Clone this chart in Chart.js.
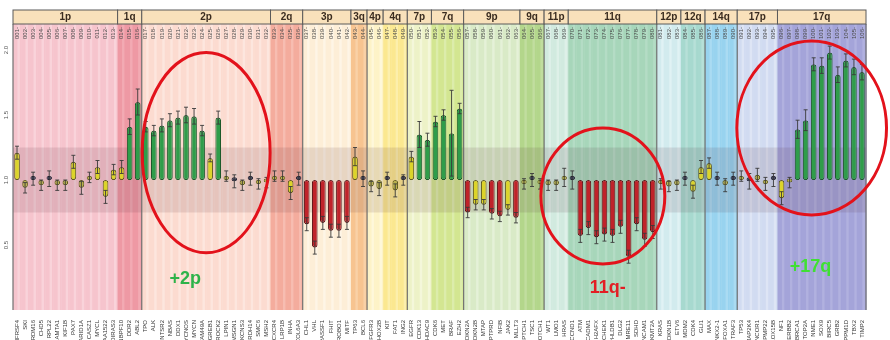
<!DOCTYPE html>
<html>
<head>
<meta charset="utf-8">
<script src="https://cdn.jsdelivr.net/npm/chart.js@4.4.1/dist/chart.umd.min.js"></script>
<style>
  html, body { margin: 0; padding: 0; background: #fff; }
  #wrap { width: 890px; height: 340px; }
</style>
</head>
<body>
<div id="wrap"><canvas id="mlpaChart" width="890" height="340"></canvas></div>
<script>
// chromosome arms and how many probes fall on each
const armNames = ['1p','1q','2p','2q','3p','3q','4p','4q','7p','7q','9p','9q','11p','11q','12p','12q','14q','17p','17q'];
const armSizes = [13, 3, 16, 4, 6, 2, 2, 3, 3, 4, 7, 3, 3, 11, 3, 3, 4, 5, 11];

const probes = [
    'TNFRSF4','SKI','PRDM16','CHD5','RPL22','CAMTA1','KIF1B','PAX7','ARID1A','CASZ1','MYCL','KIAA1522','DIRAS3',
    'NBPF10','DDR2','ABL2',
    'TPO','ALK','NTSR2','NBAS','DDX1','MYCNOS','MYCN','FAM49A','GREB1','ROCK2','LPIN1','MSGN1','KCNS3','RDH14','SMC6','MSH2',
    'CXCR4','LRP1B','INHA','COL6A3',
    'CHL1','VHL','RASSF1','FHIT','ROBO1','MITF',
    'TP63','BCL6',
    'FGFR3','PHOX2B',
    'KIT','FAT1','ING2',
    'EGFR','CDK13','HDAC9',
    'CDK6','MET','BRAF','EZH2',
    'CDKN2A','CDKN2B','MTAP','PTPRD','NFIB','JAK2','MLLT3',
    'PTCH1','TSC1','NOTCH1',
    'WT1','LMO1','HRAS',
    'CCND1','ATM','CADM1','H2AFX','CHEK1','PHLDB1','DLG2','MRE11','SDHD','NCAM1','KMT2A',
    'KRAS','CDKN1B','ETV6',
    'MDM2','CDK4','GLI1',
    'MAX','NKX2-1','FOXA1','TRAF3',
    'TP53','MAP2K4','NCOR1','PMP22','ALOX15B',
    'NF1','ERBB2','BRCA1','TOP2A','NME1','SOX9','BIRC5','GRB2','PPM1D','TBX2','TIMP2'
];

// probe ratios (1.0 = normal copy number)
const ratios = [
    1.21, 0.94, 1.01, 0.96, 1.01, 0.96, 0.96, 1.14, 0.94, 1.02, 1.10, 0.87, 1.08,
    1.10, 1.41, 1.60,
    1.41, 1.38, 1.42, 1.46, 1.48, 1.50, 1.49, 1.38, 1.17, 1.48, 1.03, 0.99, 0.96, 1.01, 0.97, 0.98,
    1.03, 1.03, 0.90, 1.01,
    0.66, 0.48, 0.67, 0.61, 0.61, 0.67,
    1.18, 1.01,
    0.95, 0.93,
    1.01, 0.92, 1.00,
    1.18, 1.35, 1.31,
    1.45, 1.50, 1.36, 1.55,
    0.75, 0.81, 0.81, 0.74, 0.72, 0.77, 0.71,
    0.97, 1.00, 0.97,
    0.96, 0.96, 1.02,
    1.00, 0.57, 0.63, 0.56, 0.58, 0.57, 0.64, 0.41, 0.66, 0.54, 0.60,
    0.97, 0.95, 0.96,
    1.01, 0.91, 1.10,
    1.13, 1.01, 0.96, 1.01,
    1.03, 0.99, 1.04, 0.97, 1.00,
    0.86, 0.98, 1.39, 1.46, 1.89, 1.88, 1.98, 1.81, 1.92, 1.87, 1.83
];

// standard deviation of each ratio
const errors = [
    0.05, 0.04, 0.05, 0.04, 0.06, 0.04, 0.04, 0.05, 0.05, 0.04, 0.05, 0.05, 0.04,
    0.05, 0.06, 0.10,
    0.04, 0.04, 0.05, 0.05, 0.05, 0.06, 0.06, 0.04, 0.03, 0.05, 0.04, 0.05, 0.04, 0.05, 0.04, 0.04,
    0.04, 0.04, 0.05, 0.05,
    0.05, 0.05, 0.05, 0.05, 0.05, 0.05,
    0.07, 0.06,
    0.04, 0.05,
    0.05, 0.05, 0.04,
    0.04, 0.10, 0.05,
    0.04, 0.04, 0.33, 0.04,
    0.04, 0.04, 0.04, 0.04, 0.04, 0.04, 0.04,
    0.04, 0.05, 0.04,
    0.04, 0.04, 0.07,
    0.07, 0.05, 0.05, 0.05, 0.05, 0.05, 0.05, 0.05, 0.05, 0.05, 0.05,
    0.04, 0.04, 0.04,
    0.05, 0.05, 0.05,
    0.04, 0.05, 0.05, 0.05,
    0.04, 0.06, 0.05, 0.05, 0.05,
    0.05, 0.04, 0.07, 0.08, 0.05, 0.06, 0.05, 0.06, 0.05, 0.06, 0.06
];

const yTicks = [2, 1.5, 1, 0.5];

// colours of each arm: [base, lighter stripe]
const armColors = [
    ['#f6c4cd', '#f9d3da'], ['#ee99a4', '#f2aab3'], ['#fcdbd0', '#fde6de'], ['#f4ac9d', '#f7bdb1'],
    ['#fdeed7', '#fef5e6'], ['#f7c490', '#f9d1a7'], ['#fdf3c7', '#fef8da'], ['#fbe890', '#fcefac'],
    ['#edf2c7', '#f4f7da'], ['#d3e691', '#dcecab'], ['#d9eac7', '#e5f1d8'], ['#b3d68b', '#c1dd9f'],
    ['#d1eadf', '#def0e8'], ['#a7d6ba', '#b4dcc5'], ['#d2ebee', '#e0f2f4'], ['#a7d9cf', '#b7e0d8'],
    ['#98d3ef', '#aadbf2'], ['#d1dbf1', '#dee5f5'], ['#a4a4d9', '#b1b1df']
];

const armIndex = [];
armSizes.forEach((n, a) => { for (let k = 0; k < n; k++) armIndex.push(a); });

function fillFor(r) {
    if (r > 1.25) return '#2f9d4a';
    if (r < 0.76) return '#c0232a';
    if (Math.abs(r - 1) <= 0.02) return '#3b3d55';
    if (Math.abs(r - 1) <= 0.08) return '#b8b24a';
    return '#dcd42a';
}
function edgeFor(r) {
    if (r > 1.25) return '#1b5a2a';
    if (r < 0.76) return '#5c1014';
    if (Math.abs(r - 1) <= 0.02) return '#1c1c2c';
    return '#5f5a1c';
}

const backdrop = {
    id: 'backdrop',
    beforeDatasetsDraw(chart) {
        const { ctx, chartArea: a, scales: { x, y } } = chart;
        const colW = x.getPixelForValue(1) - x.getPixelForValue(0);
        ctx.save();
        // column stripes
        probes.forEach((p, i) => {
            const left = x.getPixelForValue(i) - colW / 2;
            const c = armColors[armIndex[i]];
            ctx.fillStyle = c[0];
            ctx.fillRect(left, a.top, colW + 0.5, a.bottom - a.top);
            ctx.fillStyle = c[1];
            ctx.fillRect(left + colW * 0.55, a.top, colW * 0.3, a.bottom - a.top);
        });
        // normal range band
        const bTop = y.getPixelForValue(1.25), bBot = y.getPixelForValue(0.75);
        ctx.fillStyle = 'rgba(70, 30, 50, 0.12)';
        ctx.fillRect(a.left, bTop, a.right - a.left, bBot - bTop);

        // chromosome separators
        ctx.strokeStyle = '#707070';
        ctx.lineWidth = 1.2;
        let start = 0;
        armSizes.forEach((n, k) => {
            const chrom = armNames[k].replace(/[pq]/, '');
            const prev = k > 0 ? armNames[k - 1].replace(/[pq]/, '') : null;
            if (prev !== null && chrom !== prev) {
                const xx = x.getPixelForValue(start) - colW / 2;
                ctx.beginPath(); ctx.moveTo(xx, a.top); ctx.lineTo(xx, a.bottom); ctx.stroke();
            }
            start += n;
        });
        ctx.beginPath(); ctx.moveTo(a.left, a.top); ctx.lineTo(a.left, a.bottom); ctx.stroke();
        ctx.beginPath(); ctx.moveTo(a.right, a.top); ctx.lineTo(a.right, a.bottom); ctx.stroke();

        // header with arm names
        start = 0;
        armSizes.forEach((n, k) => {
            const l = x.getPixelForValue(start) - colW / 2;
            const r = x.getPixelForValue(start + n - 1) + colW / 2;
            ctx.fillStyle = '#f9e1bb';
            ctx.fillRect(l, a.top - 14, r - l, 14);
            ctx.strokeStyle = '#5a5a5a';
            ctx.lineWidth = 1;
            ctx.strokeRect(l, a.top - 14, r - l, 14);
            ctx.fillStyle = '#3a2c20';
            ctx.font = 'bold 10px "Liberation Sans", Arial, sans-serif';
            ctx.textAlign = 'center';
            ctx.textBaseline = 'middle';
            ctx.fillText(armNames[k], (l + r) / 2, a.top - 6.5);
            start += n;
        });

        // tiny probe numbers under the header
        ctx.fillStyle = '#4a4a4a';
        ctx.font = '6px "Liberation Sans", Arial, sans-serif';
        ctx.textAlign = 'right';
        ctx.textBaseline = 'middle';
        probes.forEach((p, i) => {
            ctx.save();
            ctx.translate(x.getPixelForValue(i), a.top + 3);
            ctx.rotate(-Math.PI / 2);
            ctx.fillText(String(i + 1).padStart(3, '0') + '-', 0, 0);
            ctx.restore();
        });

        // y tick labels
        ctx.fillStyle = '#555';
        ctx.textAlign = 'center';
        yTicks.forEach(t => {
            ctx.save();
            ctx.translate(6, y.getPixelForValue(t));
            ctx.rotate(-Math.PI / 2);
            ctx.fillText(t.toFixed(1), 0, 0);
            ctx.restore();
        });
        ctx.restore();
    }
};

const whiskers = {
    id: 'whiskers',
    afterDatasetsDraw(chart) {
        const { ctx, scales: { x, y } } = chart;
        ctx.save();
        ctx.strokeStyle = '#3a3a3a';
        ctx.lineWidth = 0.9;
        ratios.forEach((r, i) => {
            const cx = x.getPixelForValue(i);
            const hi = y.getPixelForValue(r + errors[i]);
            const lo = y.getPixelForValue(r - errors[i]);
            ctx.beginPath();
            ctx.moveTo(cx, hi); ctx.lineTo(cx, lo);
            ctx.moveTo(cx - 2, hi); ctx.lineTo(cx + 2, hi);
            ctx.moveTo(cx - 2, lo); ctx.lineTo(cx + 2, lo);
            ctx.stroke();
        });
        ctx.restore();
    }
};

// highlighted regions, in probe index / ratio units
const callouts = [
    { cx: 23.5, cy: 1.21, rx: 7.95, ry: 0.77, label: '+2p', lx: 20.9, ly: 0.24, color: '#2db34a' },
    { cx: 72.8, cy: 0.877, rx: 7.7, ry: 0.523, label: '11q-', lx: 73.4, ly: 0.17, color: '#e31e24' },
    { cx: 98.75, cy: 1.40, rx: 9.3, ry: 0.67, label: '+17q', lx: 98.6, ly: 0.33, color: '#3fe033' }
];

const highlights = {
    id: 'highlights',
    afterDraw(chart) {
        const { ctx, scales: { x, y } } = chart;
        const colW = x.getPixelForValue(1) - x.getPixelForValue(0);
        const unitY = y.getPixelForValue(0) - y.getPixelForValue(1);
        ctx.save();
        callouts.forEach(c => {
            ctx.strokeStyle = '#e3121b';
            ctx.lineWidth = 3;
            ctx.beginPath();
            ctx.ellipse(x.getPixelForValue(c.cx), y.getPixelForValue(c.cy), c.rx * colW, c.ry * unitY, 0, 0, Math.PI * 2);
            ctx.stroke();
            ctx.fillStyle = c.color;
            ctx.font = 'bold 18px "Liberation Sans", Arial, sans-serif';
            ctx.textAlign = 'center';
            ctx.textBaseline = 'middle';
            ctx.fillText(c.label, x.getPixelForValue(c.lx), y.getPixelForValue(c.ly));
        });
        ctx.restore();
    }
};

new Chart(document.getElementById('mlpaChart').getContext('2d'), {
    type: 'bar',
    data: {
        labels: probes,
        datasets: [{
            data: ratios.map(r => [1, r]),
            backgroundColor: ctx => fillFor(ratios[ctx.dataIndex]),
            borderColor: ctx => edgeFor(ratios[ctx.dataIndex]),
            borderWidth: 1,
            borderRadius: 3,
            borderSkipped: false,
            barPercentage: 0.7,
            categoryPercentage: 1,
            minBarLength: 4
        }]
    },
    options: {
        responsive: false,
        animation: false,
        layout: { padding: { left: 13, right: 24, top: 24, bottom: 0 } },
        plugins: { legend: { display: false }, tooltip: { enabled: false } },
        scales: {
            x: {
                grid: { display: false },
                border: { display: false },
                ticks: {
                    autoSkip: false, maxRotation: 90, minRotation: 90, padding: 2,
                    color: '#333', font: { size: 6, family: '"Liberation Sans", Arial, sans-serif' }
                },
                afterFit: s => { s.height = 30; }
            },
            y: { display: false, min: 0, max: 2.2 }
        }
    },
    plugins: [backdrop, whiskers, highlights]
});
</script>
</body>
</html>
